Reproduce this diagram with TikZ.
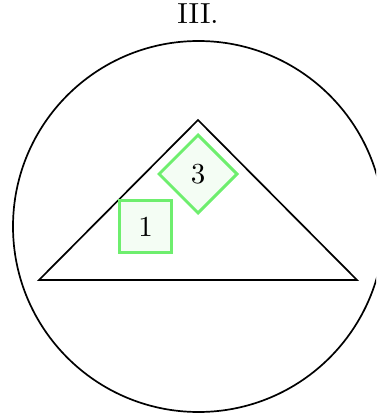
\documentclass[tikz,border=0pt]{standalone}
\usetikzlibrary{shapes.geometric}
\definecolor{gborder}{RGB}{110,238,110}
\definecolor{gfill}{RGB}{244,253,244}
\newcommand{\bigtxt}[1]{\scalebox{2.9}{#1}}
\tikzset{
  txt/.style={inner sep=0pt},
  gsq/.style={draw=gborder, fill=gfill, line width=3pt, minimum size=52pt, inner sep=0pt},
  gdia/.style={diamond, draw=gborder, fill=gfill, line width=3pt, minimum width=79pt, minimum height=79pt, inner sep=0pt},
  outline/.style={draw=black, line width=1.7pt, line join=miter}
}
\begin{document}
\begin{tikzpicture}[x=1pt,y=-1pt]
\useasboundingbox (0,0) rectangle (376,414);
\clip (0,0) rectangle (376,414);
\node[txt, anchor=base] (title) at (198,24) {\bigtxt{III.}};
\draw[outline] (198.5,226.5) circle (185.5);
\coordinate (A) at (198,120);
\coordinate (B) at (39,280);
\coordinate (C) at (357,280);
\draw[outline] (A) -- (B) -- (C) -- cycle;
\node[gdia] (d3) at (198,174) {\bigtxt{3}};
\node[gsq] (s1) at (145.5,226.5) {\bigtxt{1}};
\end{tikzpicture}
\end{document}
